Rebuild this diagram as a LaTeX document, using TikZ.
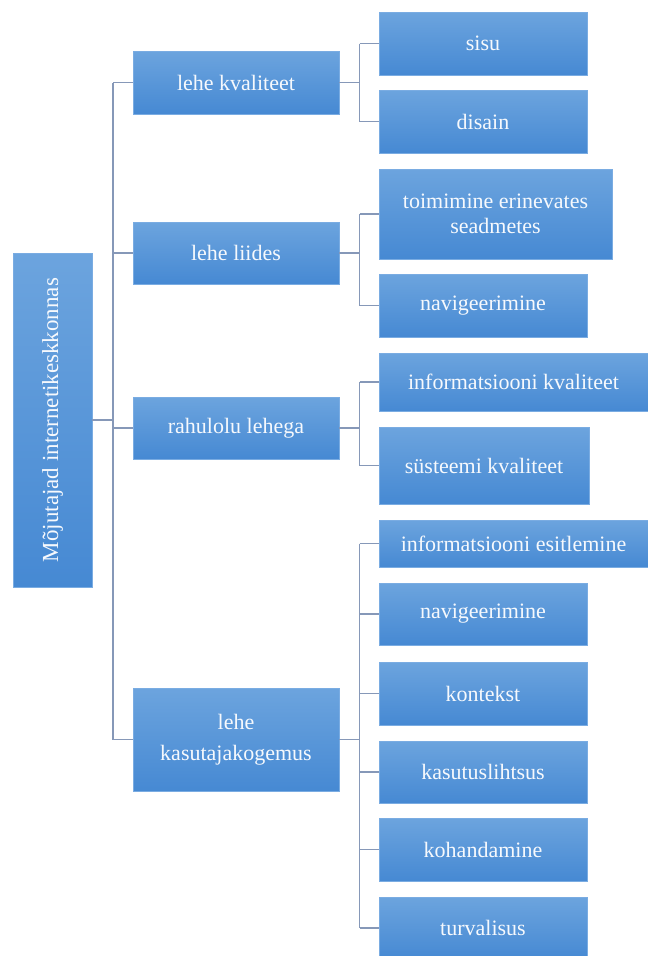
\documentclass[tikz,border=0pt]{standalone}
\usepackage{fontspec}
\setmainfont{Liberation Serif}
\definecolor{boxtop}{RGB}{108,164,222}
\definecolor{boxbot}{RGB}{70,137,211}
\definecolor{boxline}{RGB}{122,172,226}
\definecolor{linkcol}{RGB}{134,152,184}
\definecolor{boxtext}{RGB}{246,249,253}
\tikzset{
  box/.style={rectangle, top color=boxtop, bottom color=boxbot, draw=boxline,
    line width=0.6pt, text=boxtext, align=center, inner sep=2pt,
    font=\fontsize{22}{25}\selectfont},
  link/.style={draw=linkcol, line width=1.4pt}
}
\begin{document}
\begin{tikzpicture}[x=1pt,y=-1pt]

      \useasboundingbox (0,0) rectangle (648,956);

      \begin{scope}[every node/.style={box}]
        \node (root)    at (52.5,420)   [minimum width=79pt, minimum height=334pt]
          {\rotatebox{90}{\fontsize{23}{26}\selectfont Mõjutajad internetikeskkonnas}};

        \node (kval)    at (236,82.5)   [minimum width=206pt, minimum height=63pt] {lehe kvaliteet};
        \node (liides)  at (236,253)    [minimum width=206pt, minimum height=62pt] {lehe liides};
        \node (rahul)   at (236,428)    [minimum width=206pt, minimum height=62pt] {rahulolu lehega};
        \node (kasut)   at (236,739.5)  [minimum width=206pt, minimum height=103pt] {lehe\\[6pt] kasutajakogemus};

        \node (sisu)    at (483,43.5)   [minimum width=208pt, minimum height=63pt] {sisu};
        \node (disain)  at (483,121.5)  [minimum width=208pt, minimum height=63pt] {disain};
        \node (toim)    at (495.5,214)  [minimum width=233pt, minimum height=90pt] {toimimine erinevates\\ seadmetes};
        \node (navA)    at (483,305.5)  [minimum width=208pt, minimum height=63pt] {navigeerimine};
        \node (infokv)  at (513.5,382)  [minimum width=269pt, minimum height=58pt] {informatsiooni kvaliteet};
        \node (syst)    at (484,465.5)  [minimum width=210pt, minimum height=77pt] {süsteemi kvaliteet};
        \node (infoes)  at (513.5,543.5)[minimum width=269pt, minimum height=47pt] {informatsiooni esitlemine};
        \node (navB)    at (483,614)    [minimum width=208pt, minimum height=62pt] {navigeerimine};
        \node (kontekst) at (483,693.5) [minimum width=208pt, minimum height=63pt] {kontekst};
        \node (lihtsus) at (483,772)    [minimum width=208pt, minimum height=62pt] {kasutuslihtsus};
        \node (kohand)  at (483,849.5)  [minimum width=208pt, minimum height=63pt] {kohandamine};
        \node (turva)   at (483,928)    [minimum width=208pt, minimum height=62pt] {turvalisus};
      \end{scope}

      % bus lines
      \coordinate (trunk) at (113,0);
      \coordinate (bus)   at (359.5,0);

      \begin{scope}[every path/.style={link}]
        \path (root.east) -- (root.east -| trunk);
        \path (kval.west -| trunk) -- (kasut.west -| trunk);
        \path (kval.west -| trunk)   -- (kval.west);
        \path (liides.west -| trunk) -- (liides.west);
        \path (rahul.west -| trunk)  -- (rahul.west);
        \path (kasut.west -| trunk)  -- (kasut.west);

        \path (kval.east) -- (kval.east -| bus);
        \path (sisu.west -| bus) -- (disain.west -| bus);
        \path (sisu.west -| bus) -- (sisu.west);
        \path (disain.west -| bus) -- (disain.west);

        \path (liides.east) -- (liides.east -| bus);
        \path (toim.west -| bus) -- (navA.west -| bus);
        \path (toim.west -| bus) -- (toim.west);
        \path (navA.west -| bus) -- (navA.west);

        \path (rahul.east) -- (rahul.east -| bus);
        \path (infokv.west -| bus) -- (syst.west -| bus);
        \path (infokv.west -| bus) -- (infokv.west);
        \path (syst.west -| bus) -- (syst.west);

        \path (kasut.east) -- (kasut.east -| bus);
        \path (infoes.west -| bus) -- (turva.west -| bus);
        \path (infoes.west -| bus)   -- (infoes.west);
        \path (navB.west -| bus)     -- (navB.west);
        \path (kontekst.west -| bus) -- (kontekst.west);
        \path (lihtsus.west -| bus)  -- (lihtsus.west);
        \path (kohand.west -| bus)   -- (kohand.west);
        \path (turva.west -| bus)    -- (turva.west);
      \end{scope}

    \end{tikzpicture}
\end{document}
